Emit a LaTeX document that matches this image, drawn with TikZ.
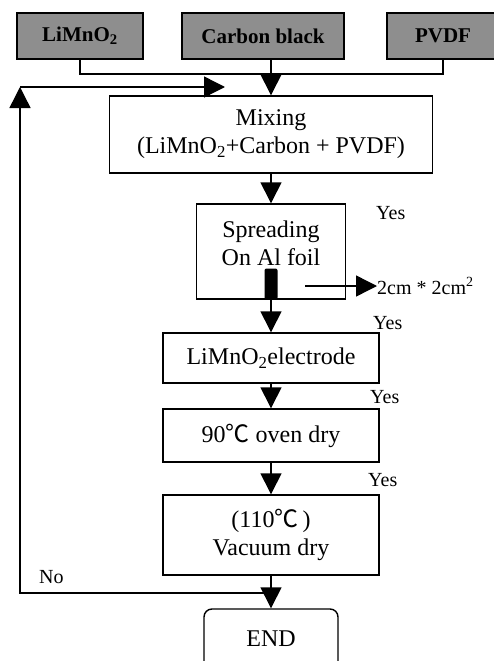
\documentclass[tikz,border=0pt]{standalone}
\usepackage{fontspec}
\setmainfont{Liberation Serif}
\newfontfamily\cjk{Noto Sans CJK SC}
\usetikzlibrary{arrows.meta}
\definecolor{FlowGray}{HTML}{8E8E8E}

\begin{document}
\begin{tikzpicture}[x=1pt,y=-1pt,line join=miter,font=\fontsize{24}{28}\selectfont,
  stepbox/.style={draw=black,line width=1.4pt,inner sep=0pt,align=center},
  srcbox/.style={draw=black,line width=2pt,fill=FlowGray,inner sep=0pt,minimum height=46pt,font=\fontsize{21}{22}\selectfont\bfseries},
  flow/.style={line width=1.4pt},
  arr/.style={flow,-{Triangle[length=21pt,width=21pt]}},
  note/.style={font=\fontsize{20}{22}\selectfont,inner sep=0pt,anchor=west}]
  \useasboundingbox (0,0) rectangle (493,661);
  \node[srcbox,minimum width=126pt] (limo) at (80,36) {LiMnO\textsubscript{2}};
  \node[srcbox,minimum width=162pt] (carb) at (263,36) {Carbon black};
  \node[srcbox,minimum width=112pt] (pvdf) at (443,36) {PVDF};
  \node[stepbox,minimum width=323pt,minimum height=77pt] (mix) at (271,134.5) {Mixing\\(LiMnO\textsubscript{2}+Carbon + PVDF)};
  \node[stepbox,minimum width=149pt,minimum height=95pt] (spread) at (271,251.5)
    {\raisebox{0pt}[\height][\dimexpr\depth+12pt\relax]{\begin{tabular}{@{}c@{}}Spreading\\On Al foil\end{tabular}}};
  \node[fill=black,rounded corners=2pt,minimum width=13pt,minimum height=31pt,inner sep=0pt] (strip) at (271,284) {};
  \node[stepbox,minimum width=216pt,minimum height=50pt] (elec) at (271,358) {LiMnO\textsubscript{2}electrode};
  \node[stepbox,minimum width=216pt,minimum height=53pt] (oven) at (271,435.5) {90{\cjk ℃} oven dry};
  \node[stepbox,minimum width=216pt,minimum height=80pt] (vac) at (271,535) {(110{\cjk ℃}\,)\\Vacuum dry};
  \node[stepbox,rounded corners=8pt,minimum width=134pt,minimum height=60pt] (endbox) at (271,639) {END};
  \node[note] (size) at (377,286) {2cm * 2cm\textsuperscript{2}};
  \node[note] (yes1) at (376,213) {Yes};
  \node[note] (yes2) at (373,323) {Yes};
  \node[note] (yes3) at (370,397) {Yes};
  \node[note] (yes4) at (368,480) {Yes};
  \node[note] (no) at (39,577) {No};
  \coordinate (join) at (271,74);
  \coordinate (cut) at (305,286);
  \coordinate (backL) at (20,593);
  \coordinate (backT) at (20,87);
  \coordinate (backR) at (225,87);
  \draw[flow] (limo.south) |- (join) -| (pvdf.south);
  \draw[arr] (carb.south -| mix.north) -- (mix.north);
  \draw[arr] (mix) -- (spread);
  \draw[arr] (strip) -- (elec);
  \draw[arr] (elec) -- (oven);
  \draw[arr] (oven) -- (vac);
  \draw[arr] (vac) -- (endbox);
  \draw[arr] (cut) -- (size.west);
  \draw[arr] (backL -| endbox.north) -- (backL) -- (backT);
  \draw[arr] (backT) -- (backR);
\end{tikzpicture}
\end{document}
